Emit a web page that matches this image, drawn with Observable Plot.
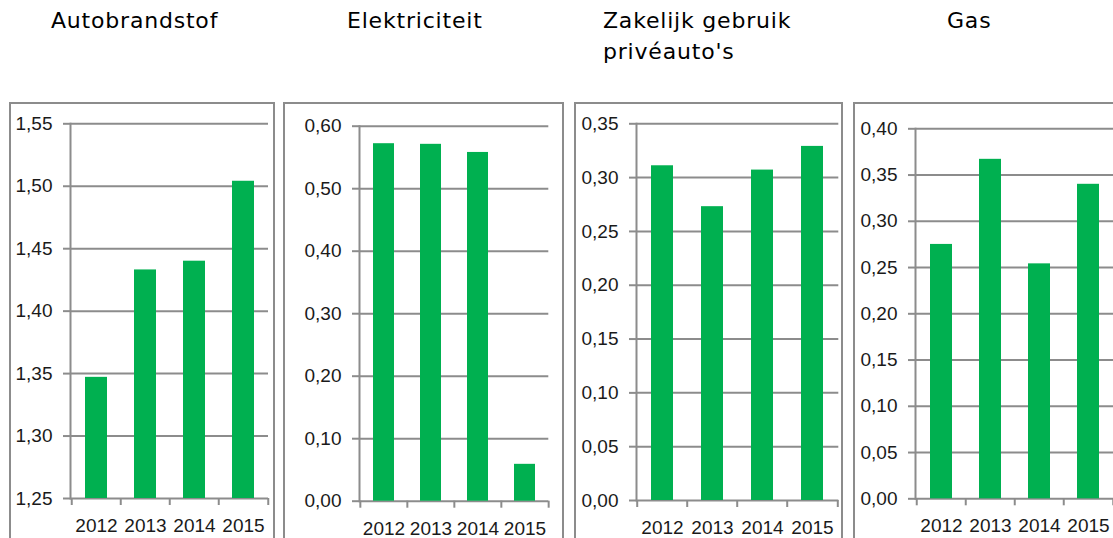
<!DOCTYPE html>
<html>
<head>
<meta charset="utf-8">
<script src="https://cdn.jsdelivr.net/npm/d3@7"></script>
<script src="https://cdn.jsdelivr.net/npm/@observablehq/plot@0.6"></script>
<style>
  html, body { margin: 0; padding: 0; background: #fff; overflow: hidden; }
  #root { position: relative; width: 1113px; height: 538px; overflow: hidden; }
  .title { position: absolute; font-family: "DejaVu Sans", sans-serif; font-size: 22px; line-height: 31px; letter-spacing: 0.8px; color: #000; white-space: nowrap; }
  .box { position: absolute; box-sizing: border-box; border: 2px solid #8c8c8c; }
  .panel { position: absolute; }
</style>
</head>
<body>
<div id="root"></div>
<script>
// ---- data ----
const years = ["2012", "2013", "2014", "2015"];
const titles = ["Autobrandstof", "Elektriciteit", "Zakelijk gebruik\nprivéauto's", "Gas"];
const autobrandstof = [1.347, 1.433, 1.440, 1.504];
const elektriciteit = [0.572, 0.571, 0.558, 0.059];
const zakelijkGebruik = [0.311, 0.273, 0.307, 0.329];
const gas = [0.275, 0.367, 0.254, 0.340];
const ticksAutobrandstof = [1.25, 1.30, 1.35, 1.40, 1.45, 1.50, 1.55];
const ticksElektriciteit = [0.00, 0.10, 0.20, 0.30, 0.40, 0.50, 0.60];
const ticksZakelijk = [0.00, 0.05, 0.10, 0.15, 0.20, 0.25, 0.30, 0.35];
const ticksGas = [0.00, 0.05, 0.10, 0.15, 0.20, 0.25, 0.30, 0.35, 0.40];

// ---- layout ----
const series = [autobrandstof, elektriciteit, zakelijkGebruik, gas];
const tickSets = [ticksAutobrandstof, ticksElektriciteit, ticksZakelijk, ticksGas];
const layout = [
  {left: 9,   width: 266, ml: 61, mr: 7,   mt: 21.3, mb: 40,   titleX: 51,  boxW: 266},
  {left: 283, width: 281, ml: 76, mr: 15.7, mt: 23.7, mb: 37.3, titleX: 347, boxW: 281},
  {left: 574, width: 269, ml: 62, mr: 4.7, mt: 21.3, mb: 38,   titleX: 603, boxW: 269},
  {left: 853, width: 260, ml: 62, mr: 0,   mt: 26.3, mb: 39.7, titleX: 947, boxW: 280}
];
const TOP = 102, H = 436;
const GREEN = "#00b050", GRAY = "#8c8c8c";
const FS = 19;
const fmt = d => d.toFixed(2).replace(".", ",");

const root = document.getElementById("root");

titles.forEach((t, i) => {
  const d = document.createElement("div");
  d.className = "title";
  d.style.left = layout[i].titleX + "px";
  d.style.top = "5px";
  d.innerHTML = t.replace("\n", "<br>");
  root.appendChild(d);
});

series.forEach((vals, i) => {
  const L = layout[i];
  const ticks = tickSets[i];
  const ymin = ticks[0], ymax = ticks[ticks.length - 1];
  const data = years.map((y, j) => ({year: y, value: vals[j]}));
  const step = (L.width - L.ml - L.mr) / years.length;

  const box = document.createElement("div");
  box.className = "box";
  box.style.left = L.left + "px";
  box.style.top = TOP + "px";
  box.style.width = L.boxW + "px";
  box.style.height = "460px";
  root.appendChild(box);

  const chart = Plot.plot({
    width: L.width,
    height: H,
    marginLeft: L.ml,
    marginRight: L.mr,
    marginTop: L.mt,
    marginBottom: L.mb,
    style: {background: "transparent", overflow: "visible", fontFamily: "Liberation Sans, Arial, sans-serif", fontSize: FS + "px", maxWidth: "none"},
    x: {type: "band", domain: years, paddingInner: 0.56, paddingOuter: 0.28},
    y: {type: "linear", domain: [ymin, ymax]},
    marks: [
      Plot.ruleY(ticks, {stroke: GRAY, strokeWidth: 2}),
      Plot.barY(data, {x: "year", y1: () => ymin, y2: "value", fill: GREEN}),
      Plot.frame({anchor: "left", stroke: GRAY, strokeWidth: 2}),
      Plot.axisY({ticks: ticks, tickSize: 7, tickPadding: 11, tickFormat: fmt, stroke: GRAY, strokeWidth: 2, fill: "#1a1a1a", fontSize: FS, label: null}),
      Plot.axisX({tickSize: 7, tickFormat: () => "", dx: -step / 2, stroke: GRAY, strokeWidth: 2, label: null}),
      Plot.axisX({ticks: [years[years.length - 1]], tickSize: 7, tickFormat: () => "", dx: step / 2, stroke: GRAY, strokeWidth: 2, label: null}),
      Plot.axisX({tickSize: 0, tickPadding: 20, fill: "#1a1a1a", fontSize: FS, label: null})
    ]
  });
  chart.classList.add("panel");
  chart.style.left = L.left + "px";
  chart.style.top = TOP + "px";
  root.appendChild(chart);
});
</script>
</body>
</html>
